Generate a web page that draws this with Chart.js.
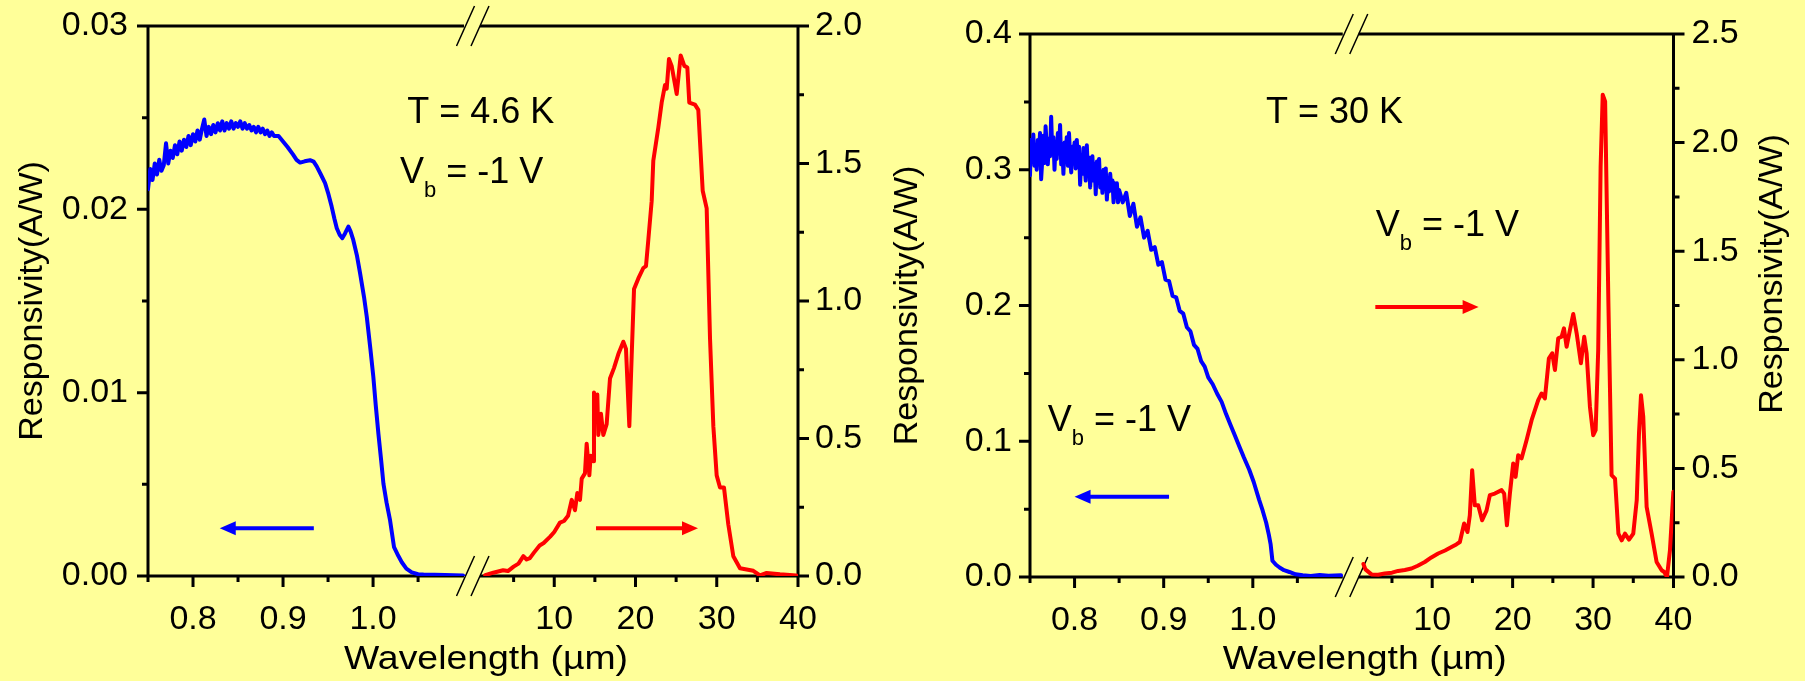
<!DOCTYPE html>
<html lang="en">
<head>
  <meta charset="UTF-8" />
  <title>Responsivity spectra</title>
  <script src="https://cdn.jsdelivr.net/npm/chart.js"></script>
  <style>
    html, body {
      margin: 0;
      padding: 0;
      background: #ffff99;
    }
    .panel {
      position: absolute;
      top: 0;
      height: 681px;
    }
    #leftPanel { left: 0; width: 880px; }
    #rightPanel { left: 880px; width: 925px; }
  </style>
</head>
<body>
  <div class="panel" id="leftPanel"><canvas id="chart46" width="880" height="681"></canvas></div>
  <div class="panel" id="rightPanel"><canvas id="chart30" width="925" height="681"></canvas></div>

  <script>
    // ---- data ----
    // T = 4.6 K, near-IR (left axis, A/W)
    const blue46Wl = [0.7500, 0.7525, 0.7550, 0.7575, 0.7600, 0.7625, 0.7650, 0.7675, 0.7700, 0.7725, 0.7750, 0.7775,
      0.7800, 0.7825, 0.7850, 0.7875, 0.7900, 0.7925, 0.7950, 0.7975, 0.8000, 0.8025, 0.8050, 0.8075, 0.8100, 0.8125,
      0.8150, 0.8175, 0.8200, 0.8225, 0.8250, 0.8275, 0.8300, 0.8325, 0.8350, 0.8375, 0.8400, 0.8425, 0.8450, 0.8475,
      0.8500, 0.8525, 0.8550, 0.8575, 0.8600, 0.8625, 0.8650, 0.8675, 0.8700, 0.8725, 0.8750, 0.8775, 0.8800, 0.8825,
      0.8850, 0.8875, 0.8900, 0.8950, 0.900, 0.905, 0.911, 0.915, 0.919, 0.924, 0.930, 0.934, 0.9374, 0.942, 0.9467,
      0.950, 0.954, 0.957, 0.9597, 0.963, 0.9659, 0.969, 0.9726, 0.975, 0.978, 0.982, 0.9856, 0.990, 0.993, 0.997,
      1.0003, 1.003, 1.0059, 1.009, 1.0115, 1.015, 1.0189, 1.0233, 1.028, 1.0319, 1.037, 1.043, 1.050, 1.056, 1.080,
      1.100];
    const blue46Resp = [0.0211, 0.0222, 0.0216, 0.0225, 0.0219, 0.0227, 0.0221, 0.0224, 0.0236, 0.0225, 0.0232, 0.0228,
      0.0235, 0.0230, 0.0237, 0.0232, 0.0238, 0.0234, 0.0240, 0.0235, 0.0241, 0.0237, 0.0243, 0.0238, 0.0244, 0.0249,
      0.0240, 0.0245, 0.0241, 0.0246, 0.0242, 0.0247, 0.0243, 0.0248, 0.0243, 0.0247, 0.0244, 0.0248, 0.0244, 0.0247,
      0.0245, 0.0248, 0.0244, 0.0247, 0.0244, 0.0246, 0.0243, 0.0245, 0.0242, 0.0245, 0.0242, 0.0244, 0.0241, 0.0243,
      0.0240, 0.0242, 0.0240, 0.0240, 0.0237, 0.0234, 0.0230, 0.0227, 0.02255, 0.02262, 0.02268, 0.0226, 0.02234,
      0.0219, 0.02143, 0.0209, 0.02015, 0.0195, 0.01897, 0.0186, 0.01843, 0.0187, 0.01906, 0.0188, 0.01833, 0.0175,
      0.01651, 0.0152, 0.01414, 0.0124, 0.01086, 0.0093, 0.00777, 0.0063, 0.00504, 0.0040, 0.00303, 0.00157, 0.0011,
      0.00075, 0.0004, 0.0002, 0.0001, 0.00008, 0.00005, 0.00003];

    // T = 4.6 K, far-IR (right axis, A/W)
    const red46Wl = [1.5, 2.5, 3.7, 4.3, 5.0, 5.6, 6.2, 6.6, 7.0, 7.5, 8.2, 8.7, 9.5, 10.0, 10.7, 11.2, 11.7, 12.15,
      12.55, 12.84, 13.17, 13.38, 13.78, 13.99, 14.32, 14.48, 14.81, 14.89, 15.14, 15.30, 15.42, 15.75, 16.04, 16.45,
      16.86, 17.35, 17.89, 18.50, 18.83, 19.24, 19.53, 19.82, 20.35, 20.96, 21.29, 21.58, 21.99, 22.19, 22.81, 23.22,
      23.63, 23.84, 24.12, 24.45, 25.07, 25.56, 26.01, 26.38, 26.62, 27.32, 27.73, 28.27, 28.76, 29.17, 29.58, 29.99,
      30.40, 30.89, 31.42, 32.04, 32.86, 34.5, 35.32, 36.14, 37.78, 39.8];
    const red46Resp = [0.003, 0.012, 0.021, 0.018, 0.034, 0.045, 0.072, 0.060, 0.065, 0.085, 0.111, 0.120, 0.143, 0.160,
      0.194, 0.200, 0.219, 0.277, 0.239, 0.302, 0.277, 0.354, 0.373, 0.481, 0.366, 0.437, 0.417, 0.667, 0.596, 0.660,
      0.513, 0.590, 0.513, 0.552, 0.718, 0.756, 0.807, 0.852, 0.826, 0.545, 0.801, 1.044, 1.082, 1.120, 1.127, 1.223,
      1.363, 1.510, 1.631, 1.721, 1.785, 1.772, 1.880, 1.855, 1.753, 1.893, 1.855, 1.849, 1.721, 1.714, 1.695, 1.401,
      1.337, 0.865, 0.545, 0.366, 0.322, 0.322, 0.188, 0.072, 0.028, 0.019, 0.002, 0.011, 0.006, 0.002];

    // T = 30 K, near-IR (left axis, A/W)
    const blue30Wl = [0.75000, 0.75125, 0.75250, 0.75375, 0.75500, 0.75625, 0.75750, 0.75875, 0.76000, 0.76125,
      0.76250, 0.76375, 0.76500, 0.76625, 0.76750, 0.76875, 0.77000, 0.77125, 0.77250, 0.77375, 0.77500, 0.77625,
      0.77750, 0.77875, 0.78000, 0.78125, 0.78250, 0.78375, 0.78500, 0.78625, 0.78750, 0.78875, 0.79000, 0.79125,
      0.79250, 0.79375, 0.79500, 0.79625, 0.79750, 0.79875, 0.80000, 0.80125, 0.80250, 0.80375, 0.80500, 0.80625,
      0.80750, 0.80875, 0.81000, 0.81125, 0.81250, 0.81375, 0.81500, 0.81625, 0.81750, 0.81875, 0.82000, 0.82125,
      0.82250, 0.82375, 0.82500, 0.82625, 0.82750, 0.82875, 0.83000, 0.83125, 0.83250, 0.83375, 0.83500, 0.83625,
      0.83750, 0.83875, 0.84000, 0.84125, 0.84250, 0.84375, 0.84500, 0.84625, 0.84750, 0.84875, 0.85000,
      0.854, 0.858, 0.862, 0.866, 0.870, 0.874, 0.878, 0.882, 0.886, 0.890, 0.894, 0.898, 0.902, 0.906, 0.910,
      0.914, 0.918, 0.922, 0.926, 0.930, 0.934, 0.938, 0.942, 0.946, 0.950, 0.955, 0.960, 0.965, 0.970, 0.975, 0.980,
      0.985, 0.990, 0.996, 1.001, 1.007, 1.011, 1.015, 1.018, 1.020, 1.022, 1.026, 1.030, 1.035, 1.041, 1.048, 1.056,
      1.065, 1.075, 1.085, 1.099];
    const blue30Resp = [0.296, 0.322, 0.307, 0.326, 0.303, 0.318, 0.300, 0.322, 0.311, 0.327,
      0.293, 0.307, 0.325, 0.305, 0.332, 0.317, 0.304, 0.323, 0.310, 0.339, 0.312, 0.324,
      0.300, 0.320, 0.308, 0.327, 0.312, 0.333, 0.304, 0.317, 0.297, 0.320, 0.308, 0.324,
      0.303, 0.327, 0.310, 0.298, 0.317, 0.305, 0.320, 0.301, 0.322, 0.305, 0.317, 0.289,
      0.310, 0.297, 0.316, 0.304, 0.292, 0.318, 0.298, 0.309, 0.287, 0.304, 0.310, 0.292,
      0.304, 0.282, 0.306, 0.295, 0.308, 0.287, 0.298, 0.283, 0.300, 0.289, 0.301, 0.278,
      0.293, 0.284, 0.297, 0.285, 0.292, 0.276, 0.290, 0.283, 0.290, 0.276, 0.285,
      0.276, 0.283, 0.266, 0.275, 0.258, 0.265, 0.250, 0.255, 0.241, 0.243, 0.230, 0.232, 0.219, 0.218, 0.207,
      0.206, 0.196, 0.194, 0.184, 0.181, 0.171, 0.168, 0.159, 0.155, 0.147, 0.142, 0.135, 0.129, 0.120, 0.112, 0.104,
      0.096, 0.088, 0.079, 0.070, 0.057, 0.049, 0.040, 0.031, 0.024, 0.012, 0.009, 0.007, 0.005, 0.0037, 0.002, 0.0013,
      0.0008, 0.0015, 0.0010, 0.0013];

    // T = 30 K, far-IR (right axis, A/W)
    const red30Wl = [1.45, 1.7, 2.45, 3.3, 4.1, 5.0, 5.76, 6.6, 7.43, 8.2, 9.08, 9.9, 10.74, 11.6, 12.4, 13.0, 13.44,
      13.97, 14.39, 14.68, 14.97, 15.3, 15.72, 16.21, 16.76, 17.17, 17.79, 18.63, 18.95, 19.29, 19.66, 20.07, 20.37,
      20.69, 21.11, 21.73, 22.36, 23.18, 23.6, 24.01, 24.51, 24.92, 25.26, 25.67, 26.09, 26.38, 26.71, 27.12, 27.54,
      27.96, 28.49, 28.9, 29.2, 29.61, 30.02, 30.32, 30.64, 30.94, 31.2, 31.5, 31.9, 32.3, 32.73, 33.15, 33.56, 33.97,
      34.47, 35.0, 35.43, 35.71, 35.96, 36.24, 36.66, 37.28, 37.9, 38.53, 38.85, 39.19, 39.56, 39.98];
    const red30Resp = [0.06, 0.035, 0.012, 0.010, 0.016, 0.020, 0.028, 0.032, 0.039, 0.052, 0.069, 0.090, 0.108, 0.122,
      0.138, 0.150, 0.161, 0.246, 0.207, 0.284, 0.492, 0.330, 0.330, 0.261, 0.307, 0.377, 0.384, 0.400, 0.384, 0.238,
      0.384, 0.523, 0.461, 0.561, 0.546, 0.630, 0.722, 0.814, 0.845, 0.822, 1.007, 1.030, 0.953, 1.099, 1.106, 1.145,
      1.060, 1.137, 1.211, 1.122, 0.984, 1.106, 1.030, 0.784, 0.653, 0.676, 1.045, 1.890, 2.220, 2.190, 1.275, 0.469,
      0.453, 0.200, 0.169, 0.200, 0.172, 0.200, 0.354, 0.661, 0.837, 0.738, 0.323, 0.200, 0.069, 0.031, 0.023, 0.000,
      0.123, 0.392];

    // tick values
    const shortMajor = [0.8, 0.9, 1.0];
    const shortMinor = [0.75, 0.85, 0.95, 1.05];
    const longMajor = [10, 20, 30, 40];
    const longMinor = [5, 15, 25, 35];
    const near46Ticks = [0, 0.01, 0.02, 0.03];
    const near46Minor = [0.005, 0.015, 0.025];
    const far46Ticks = [0, 0.5, 1.0, 1.5, 2.0];
    const far46Minor = [0.25, 0.75, 1.25, 1.75];
    const near30Ticks = [0, 0.1, 0.2, 0.3, 0.4];
    const near30Minor = [0.05, 0.15, 0.25, 0.35];
    const far30Ticks = [0, 0.5, 1.0, 1.5, 2.0, 2.5];
    const far30Minor = [0.25, 0.75, 1.25, 1.75, 2.25];

    // broken x axis: 0.75-1.11 um on the first half, 0-40 um on the second
    const SHORT_START = 0.75, SHORT_SPAN = 0.361, LONG_SPAN = 40;
    const toShort = wl => (wl - SHORT_START) / SHORT_SPAN;
    const toLong = wl => 1 + wl / LONG_SPAN;
    const xTickPos = shortMajor.map(toShort).concat(longMajor.map(toLong));
    const xTickText = shortMajor.map(v => v.toFixed(1)).concat(longMajor.map(String));
    const xMinorPos = shortMinor.map(toShort).concat(longMinor.map(toLong));

    const FONT = '"Liberation Sans", Arial, Helvetica, sans-serif';
    Chart.defaults.font.family = FONT;
    Chart.defaults.color = '#000';

    function series(wl, resp, map) {
      return wl.map((w, i) => ({ x: map(w), y: resp[i] }));
    }

    function xPix(chart, seg, wl) {
      return chart.scales.x.getPixelForValue(seg === 'short' ? toShort(wl) : toLong(wl));
    }

    // no extra label padding around the plot box
    function noPad(s) {
      s.paddingTop = 0;
      s.paddingBottom = 0;
      s.paddingLeft = 0;
      s.paddingRight = 0;
    }

    function drawFrame(chart, cfg) {
      const { ctx, chartArea: a, scales } = chart;
      const bx = scales.x.getPixelForValue(1);
      ctx.save();
      ctx.strokeStyle = '#000';
      ctx.lineWidth = 3;
      ctx.beginPath();
      ctx.moveTo(a.left, a.top - 1.5); ctx.lineTo(a.left, a.bottom + 1.5);
      ctx.moveTo(a.right, a.top - 1.5); ctx.lineTo(a.right, a.bottom + 1.5);
      [a.top, a.bottom].forEach(y => {
        ctx.moveTo(a.left, y); ctx.lineTo(bx - 9, y);
        ctx.moveTo(bx + 7, y); ctx.lineTo(a.right, y);
      });
      const mark = (x1, y1, x2, y2) => { ctx.moveTo(x1, y1); ctx.lineTo(x2, y2); };
      xTickPos.forEach(u => { const x = scales.x.getPixelForValue(u); mark(x, a.bottom, x, a.bottom + 11); });
      xMinorPos.forEach(u => { const x = scales.x.getPixelForValue(u); mark(x, a.bottom, x, a.bottom + 6); });
      cfg.yMajor.forEach(v => { const y = scales.y.getPixelForValue(v); mark(a.left - 11, y, a.left, y); });
      cfg.yMinor.forEach(v => { const y = scales.y.getPixelForValue(v); mark(a.left - 6, y, a.left, y); });
      cfg.y2Major.forEach(v => { const y = scales.y2.getPixelForValue(v); mark(a.right, y, a.right + 11, y); });
      cfg.y2Minor.forEach(v => { const y = scales.y2.getPixelForValue(v); mark(a.right, y, a.right + 6, y); });
      ctx.stroke();
      // break marks
      ctx.lineWidth = 1.5;
      ctx.beginPath();
      [a.top, a.bottom].forEach(y => {
        [-7.5, 7].forEach(d => { ctx.moveTo(bx + d - 9, y + 20); ctx.lineTo(bx + d + 9, y - 20); });
      });
      ctx.stroke();
      ctx.restore();
    }

    function drawVb(ctx, x, yMid) {
      const base = yMid + 13;
      ctx.font = '36px ' + FONT;
      ctx.fillText('V', x, base);
      let w = ctx.measureText('V').width;
      ctx.font = '22px ' + FONT;
      ctx.fillText('b', x + w, base + 14);
      w += ctx.measureText('b').width;
      ctx.font = '36px ' + FONT;
      ctx.fillText(' = -1 V', x + w, base);
    }

    function drawArrow(ctx, x1, x2, y, color) {
      const dir = Math.sign(x2 - x1);
      ctx.strokeStyle = color;
      ctx.fillStyle = color;
      ctx.lineWidth = 4;
      ctx.beginPath();
      ctx.moveTo(x1, y);
      ctx.lineTo(x2 - dir * 14, y);
      ctx.stroke();
      ctx.beginPath();
      ctx.moveTo(x2, y);
      ctx.lineTo(x2 - dir * 16, y - 7);
      ctx.lineTo(x2 - dir * 16, y + 7);
      ctx.closePath();
      ctx.fill();
    }

    function drawNotes(chart, cfg) {
      const { ctx, scales } = chart;
      ctx.save();
      ctx.textAlign = 'left';
      ctx.textBaseline = 'alphabetic';
      ctx.fillStyle = '#000';
      cfg.notes.forEach(n => {
        const x = xPix(chart, n.seg, n.wl);
        const y = scales[n.axis].getPixelForValue(n.val);
        if (n.text === 'Vb') {
          drawVb(ctx, x, y);
        } else {
          ctx.font = '36px ' + FONT;
          ctx.fillText(n.text, x, y + 13);
        }
      });
      cfg.arrows.forEach(r => {
        const y = scales[r.axis].getPixelForValue(r.val);
        drawArrow(ctx, xPix(chart, r.seg, r.from), xPix(chart, r.seg, r.to), y, r.color);
      });
      // axis titles
      ctx.fillStyle = '#000';
      ctx.font = '34px ' + FONT;
      ctx.textAlign = 'center';
      ctx.textBaseline = 'middle';
      ctx.save();
      ctx.translate(scales.x.getPixelForValue(1) + 13, chart.height - 21);
      ctx.scale(1.1, 1);
      ctx.fillText('Wavelength (\u00b5m)', 0, 0);
      ctx.restore();
      if (cfg.rightTitle) {
        ctx.save();
        ctx.translate(scales.y2.right - 32, cfg.rightTitleY);
        ctx.rotate(-Math.PI / 2);
        ctx.fillText('Responsivity(A/W)', 0, 0);
        ctx.restore();
      }
      ctx.restore();
    }

    function makeChart(id, cfg) {
      return new Chart(document.getElementById(id), {
        type: 'line',
        data: {
          datasets: [
            { data: series(cfg.blueWl, cfg.blueResp, toShort), borderColor: '#0000ff', yAxisID: 'y' },
            { data: series(cfg.redWl, cfg.redResp, toLong), borderColor: '#ff0000', yAxisID: 'y2' }
          ]
        },
        options: {
          responsive: false,
          animation: false,
          devicePixelRatio: 1,
          events: [],
          layout: { padding: { top: cfg.top, left: 0, right: 0, bottom: 0 }, autoPadding: false },
          plugins: { legend: { display: false }, tooltip: { enabled: false } },
          elements: {
            point: { radius: 0 },
            line: { borderWidth: 4, tension: 0, borderJoinStyle: 'round', borderCapStyle: 'round' }
          },
          scales: {
            x: {
              type: 'linear', min: 0, max: 2,
              grid: { display: false, drawTicks: false },
              border: { display: false },
              afterBuildTicks: s => { s.ticks = xTickPos.map(v => ({ value: v })); },
              afterFit: s => { s.height = cfg.xHeight; noPad(s); },
              ticks: {
                autoSkip: false, maxRotation: 0, padding: 23, color: '#000',
                font: { size: 34 },
                callback: (v, i) => xTickText[i]
              }
            },
            y: {
              type: 'linear', position: 'left', min: 0, max: cfg.yMax,
              grid: { display: false, drawTicks: false },
              border: { display: false },
              afterBuildTicks: s => { s.ticks = cfg.yMajor.map(v => ({ value: v })); },
              afterFit: s => { s.width = cfg.yWidth; noPad(s); },
              ticks: {
                padding: cfg.yPad, color: '#000', font: { size: 34 },
                callback: v => v.toFixed(cfg.yDigits)
              },
              title: {
                display: true, text: 'Responsivity(A/W)', color: '#000',
                font: { size: 34 }, padding: { top: cfg.yTitlePad, bottom: 0 }
              }
            },
            y2: {
              type: 'linear', position: 'right', min: 0, max: cfg.y2Max,
              grid: { display: false, drawTicks: false },
              border: { display: false },
              afterBuildTicks: s => { s.ticks = cfg.y2Major.map(v => ({ value: v })); },
              afterFit: s => { s.width = cfg.y2Width; noPad(s); },
              ticks: {
                padding: cfg.y2Pad, color: '#000', font: { size: 34 },
                callback: v => v.toFixed(1)
              }
            }
          }
        },
        plugins: [{
          id: 'panelDecor',
          beforeDatasetsDraw(chart) { drawFrame(chart, cfg); },
          afterDatasetsDraw(chart) { drawNotes(chart, cfg); }
        }]
      });
    }

    makeChart('chart46', {
      top: 26, xHeight: 105, yWidth: 148, y2Width: 82,
      blueWl: blue46Wl, blueResp: blue46Resp, redWl: red46Wl, redResp: red46Resp,
      yMax: 0.03, yMajor: near46Ticks, yMinor: near46Minor, yDigits: 2, yPad: 20, yTitlePad: 12.6,
      y2Max: 2.0, y2Major: far46Ticks, y2Minor: far46Minor, y2Pad: 17,
      rightTitle: false,
      notes: [
        { text: 'T = 4.6 K', seg: 'short', wl: 1.038, axis: 'y', val: 0.0254 },
        { text: 'Vb', seg: 'short', wl: 1.030, axis: 'y', val: 0.02216 }
      ],
      arrows: [
        { color: '#0000ff', seg: 'short', from: 0.9342, to: 0.8297, axis: 'y', val: 0.0026 },
        { color: '#ff0000', seg: 'long', from: 15.14, to: 27.69, axis: 'y2', val: 0.174 }
      ]
    });

    makeChart('chart30', {
      top: 34, xHeight: 104, yWidth: 150, y2Width: 131.5,
      blueWl: blue30Wl, blueResp: blue30Resp, redWl: red30Wl, redResp: red30Resp,
      yMax: 0.4, yMajor: near30Ticks, yMinor: near30Minor, yDigits: 1, yPad: 18, yTitlePad: 7.6,
      y2Max: 2.5, y2Major: far30Ticks, y2Minor: far30Minor, y2Pad: 18,
      rightTitle: true, rightTitleY: 274,
      notes: [
        { text: 'T = 30 K', seg: 'short', wl: 1.0148, axis: 'y', val: 0.3442 },
        { text: 'Vb', seg: 'long', wl: 2.98, axis: 'y2', val: 1.632 },
        { text: 'Vb', seg: 'short', wl: 0.770, axis: 'y', val: 0.117 }
      ],
      arrows: [
        { color: '#ff0000', seg: 'long', from: 2.93, to: 15.77, axis: 'y2', val: 1.243 },
        { color: '#0000ff', seg: 'short', from: 0.906, to: 0.800, axis: 'y', val: 0.0591 }
      ]
    });
  </script>
</body>
</html>
